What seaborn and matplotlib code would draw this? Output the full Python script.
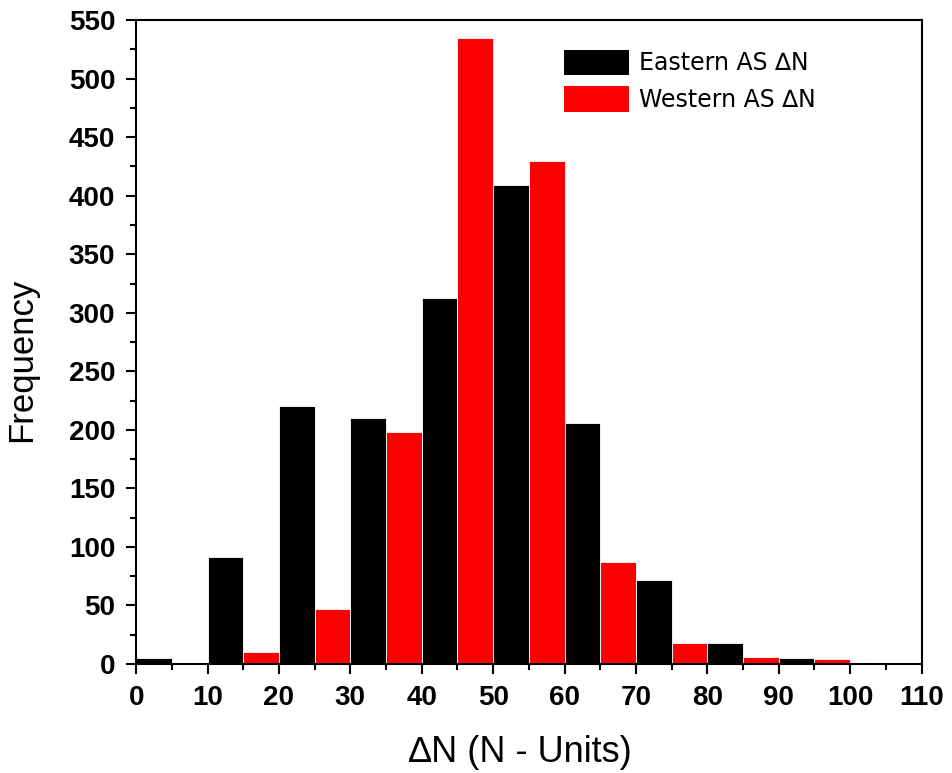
import numpy as np
import pandas as pd
import matplotlib
matplotlib.use("Agg")
import matplotlib.pyplot as plt
import seaborn as sns
from matplotlib.ticker import MultipleLocator

# bin left edges (width 5) and counts
eastern_bins = [0, 10, 20, 30, 40, 50, 60, 70, 80, 90, 100]
eastern_counts = [5, 91, 220, 210, 313, 409, 206, 72, 18, 5, 1]
western_bins = [15, 25, 35, 45, 55, 65, 75, 85, 95]
western_counts = [10, 47, 198, 535, 430, 87, 18, 6, 4]

series_names = ["Eastern AS \u2206N", "Western AS \u2206N"]
series_colors = ["#000000", "#ff0000"]
bin_width = 5

df = pd.concat([
    pd.DataFrame({"dN": np.array(eastern_bins) + bin_width / 2,
                  "count": eastern_counts, "series": series_names[0]}),
    pd.DataFrame({"dN": np.array(western_bins) + bin_width / 2,
                  "count": western_counts, "series": series_names[1]}),
], ignore_index=True)

sns.set_style("white")
plt.rcParams["font.family"] = ["Liberation Sans", "DejaVu Sans"]
plt.rcParams["text.color"] = "black"
plt.rcParams["axes.labelcolor"] = "black"
plt.rcParams["xtick.color"] = "black"
plt.rcParams["ytick.color"] = "black"

fig = plt.figure(figsize=(9.52, 7.73), dpi=100)
ax = fig.add_axes([0.143, 0.141, 0.825, 0.833])

sns.histplot(data=df, x="dN", weights="count", hue="series",
             hue_order=series_names, palette=series_colors,
             binwidth=bin_width, binrange=(0, 110), multiple="layer",
             alpha=1, linewidth=0.6, edgecolor="white", legend=False, ax=ax)

ax.set_xlim(0, 110)
ax.set_ylim(0, 550)
ax.xaxis.set_major_locator(MultipleLocator(10))
ax.xaxis.set_minor_locator(MultipleLocator(5))
ax.yaxis.set_major_locator(MultipleLocator(50))
ax.yaxis.set_minor_locator(MultipleLocator(25))

ax.tick_params(which="both", direction="out", bottom=True, left=True,
               top=False, right=False, width=1.5, color="black")
ax.tick_params(which="major", length=7, labelsize=20, pad=8)
ax.tick_params(which="minor", length=4)
for lbl in ax.get_xticklabels() + ax.get_yticklabels():
    lbl.set_fontweight("bold")

for sp in ax.spines.values():
    sp.set_visible(True)
    sp.set_linewidth(1.5)
    sp.set_color("black")

ax.set_xlabel("\u2206N (N - Units)", fontsize=26)
ax.set_ylabel("Frequency", fontsize=25)
ax.xaxis.set_label_coords(0.489, -0.11)
ax.yaxis.set_label_coords(-0.125, 0.472)

handles = [plt.Rectangle((0, 0), 1, 1, facecolor=c, edgecolor="none")
           for c in series_colors]
ax.legend(handles, series_names, loc="upper right",
          bbox_to_anchor=(0.892, 0.987), frameon=False,
          prop={"family": "DejaVu Sans", "size": 17},
          handlelength=2.75, handleheight=1.3, handletextpad=0.4,
          labelspacing=0.45)

fig.savefig("out.png", dpi=100)
